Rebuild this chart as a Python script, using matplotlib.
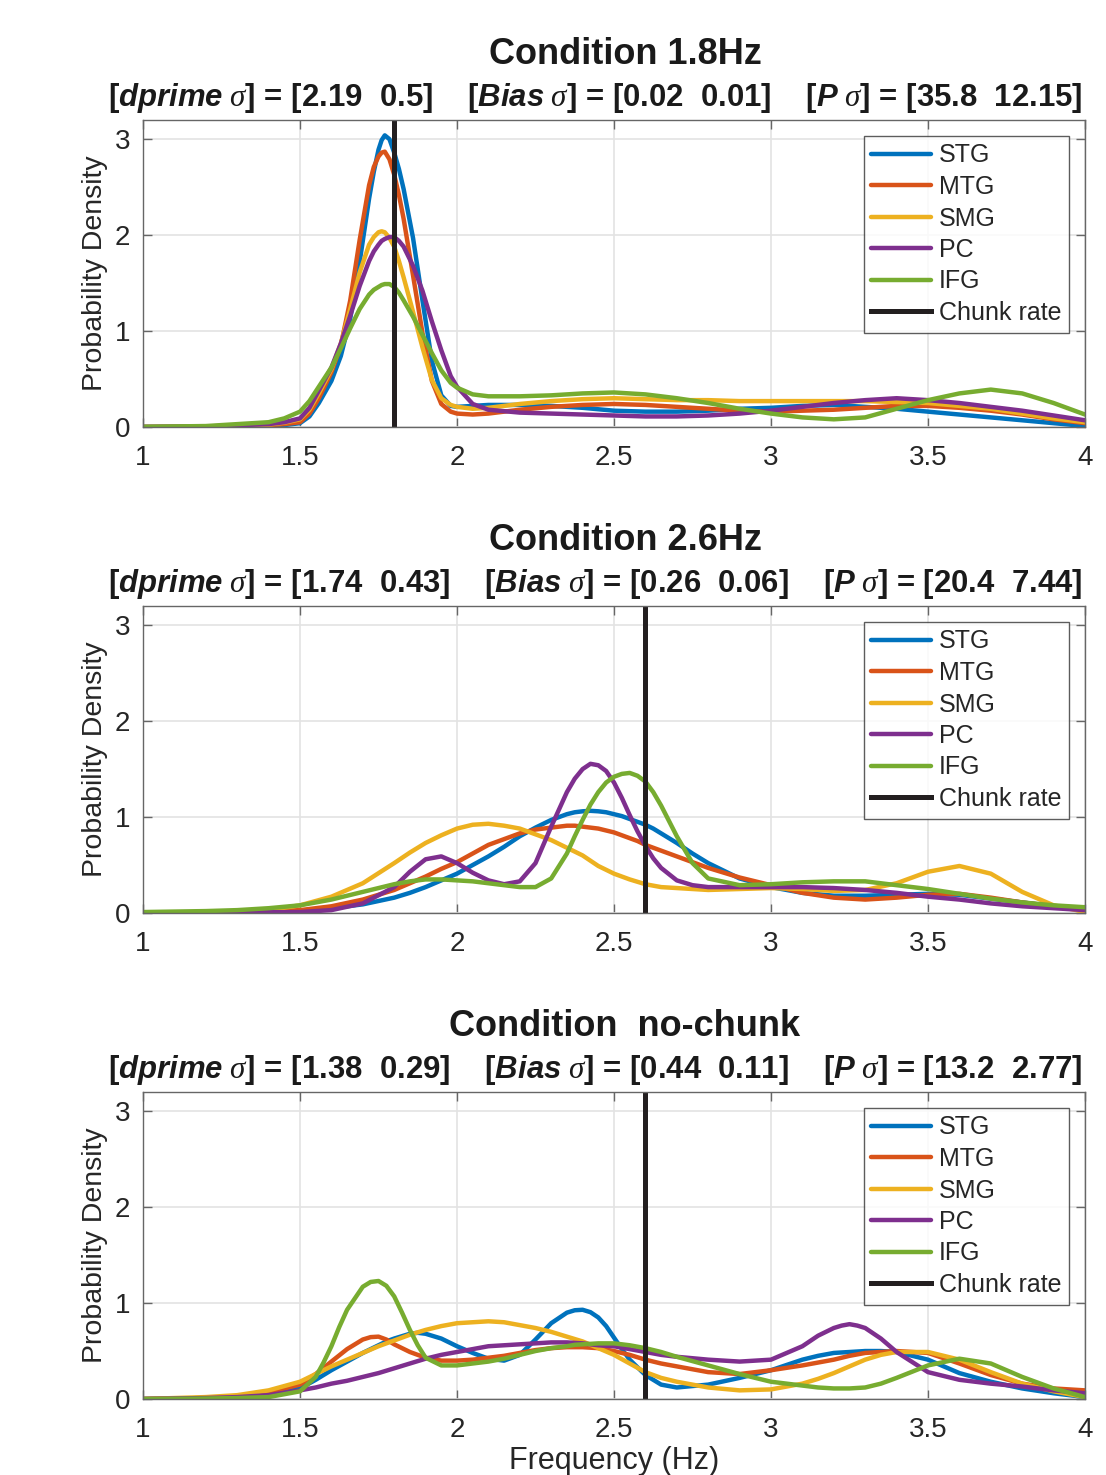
import matplotlib
matplotlib.use("Agg")
import matplotlib.pyplot as plt

plt.rcParams.update(
    {
        "font.family": ["Liberation Sans", "DejaVu Sans"],
        "mathtext.fontset": "custom",
        "mathtext.rm": "Liberation Sans:bold",
        "mathtext.bf": "Liberation Sans:bold",
        "mathtext.it": "Liberation Serif:italic",
        "mathtext.bfit": "Liberation Sans:bold:italic",
    }
)

# MATLAB default line colours
COLORS = ["#0072BD", "#D95319", "#EDB120", "#7E2F8E", "#77AC30"]
REGIONS = ["STG", "MTG", "SMG", "PC", "IFG"]

TITLES = ["Condition 1.8Hz", "Condition 2.6Hz", "Condition  no-chunk"]
DPRIME = [("2.19", "0.5"), ("1.74", "0.43"), ("1.38", "0.29")]
BIAS = [("0.02", "0.01"), ("0.26", "0.06"), ("0.44", "0.11")]
PVAL = [("35.8", "12.15"), ("20.4", "7.44"), ("13.2", "2.77")]
CHUNK_RATE = [1.8, 2.6, 2.6]

TAIL = [2.2, 2.3, 2.4, 2.5, 2.6, 2.7, 2.8, 2.9, 3.0, 3.1, 3.2, 3.3, 3.4, 3.5, 3.6, 3.7, 3.8, 3.9, 4.0]

# ---- panel 1 (1.8 Hz) ----
X1 = [1.0, 1.2, 1.4, 1.45, 1.5, 1.53, 1.56, 1.6, 1.63, 1.66, 1.69, 1.72, 1.735, 1.75,
      1.76, 1.77, 1.785, 1.8, 1.815, 1.83, 1.86, 1.89, 1.92, 1.95, 1.98, 2.0, 2.05, 2.1] + TAIL
STG1 = [0.0, 0.002, 0.01, 0.02, 0.04, 0.11, 0.25, 0.48, 0.74, 1.13, 1.72, 2.38, 2.66, 2.89,
        2.99, 3.04, 3.00, 2.86, 2.69, 2.48, 1.97, 1.32, 0.69, 0.33, 0.22, 0.21, 0.22, 0.23,
        0.23, 0.22, 0.20, 0.17, 0.16, 0.16, 0.17, 0.19, 0.20, 0.22, 0.23, 0.21, 0.19, 0.16,
        0.13, 0.10, 0.07, 0.04, 0.01]
MTG1 = [0.0, 0.003, 0.02, 0.03, 0.05, 0.14, 0.30, 0.57, 0.85, 1.32, 1.95, 2.52, 2.71, 2.82,
        2.86, 2.87, 2.79, 2.63, 2.42, 2.17, 1.58, 0.98, 0.48, 0.24, 0.16, 0.14, 0.13, 0.14,
        0.18, 0.21, 0.23, 0.24, 0.23, 0.21, 0.19, 0.17, 0.16, 0.17, 0.18, 0.20, 0.22, 0.22,
        0.20, 0.17, 0.13, 0.08, 0.04]
SMG1 = [0.0, 0.004, 0.025, 0.045, 0.08, 0.18, 0.35, 0.60, 0.87, 1.23, 1.61, 1.90, 1.98, 2.03,
        2.04, 2.03, 1.97, 1.88, 1.73, 1.56, 1.20, 0.83, 0.49, 0.30, 0.23, 0.21, 0.19, 0.20,
        0.24, 0.27, 0.29, 0.30, 0.29, 0.28, 0.28, 0.27, 0.27, 0.27, 0.27, 0.27, 0.26, 0.25,
        0.22, 0.19, 0.14, 0.09, 0.05]
PC1 = [0.0, 0.005, 0.03, 0.05, 0.09, 0.20, 0.38, 0.62, 0.87, 1.16, 1.47, 1.73, 1.83, 1.90,
       1.94, 1.96, 1.98, 1.98, 1.94, 1.88, 1.68, 1.42, 1.10, 0.80, 0.53, 0.42, 0.24, 0.18,
       0.15, 0.14, 0.13, 0.12, 0.11, 0.11, 0.12, 0.14, 0.17, 0.21, 0.25, 0.28, 0.30, 0.28,
       0.25, 0.21, 0.17, 0.12, 0.07]
IFG1 = [0.002, 0.01, 0.05, 0.09, 0.16, 0.27, 0.42, 0.62, 0.82, 1.03, 1.23, 1.38, 1.43, 1.46,
        1.48, 1.49, 1.49, 1.46, 1.40, 1.32, 1.15, 0.96, 0.77, 0.59, 0.46, 0.41, 0.34, 0.32,
        0.32, 0.33, 0.35, 0.36, 0.34, 0.30, 0.25, 0.19, 0.14, 0.10, 0.08, 0.10, 0.19, 0.28,
        0.35, 0.39, 0.35, 0.25, 0.13]

# ---- panel 2 (2.6 Hz) ----
X2 = [1.0, 1.2, 1.3, 1.4, 1.5, 1.6, 1.7,
      1.8, 1.85, 1.9, 1.95, 2.0, 2.05, 2.1, 2.15, 2.2, 2.25, 2.3, 2.35,
      2.375, 2.4, 2.425, 2.45, 2.475, 2.5, 2.525, 2.55, 2.575, 2.6, 2.625,
      2.65, 2.7, 2.75, 2.8,
      2.9, 3.0, 3.1, 3.2, 3.3, 3.4, 3.5, 3.6, 3.7, 3.8, 3.9, 4.0]
STG2 = [0.0, 0.003, 0.006, 0.01, 0.02, 0.05, 0.09,
        0.16, 0.21, 0.27, 0.34, 0.41, 0.50, 0.59, 0.69, 0.80, 0.89, 0.97, 1.03,
        1.05, 1.06, 1.065, 1.06, 1.05, 1.03, 1.01, 0.98, 0.95, 0.92, 0.88,
        0.83, 0.73, 0.62, 0.52,
        0.36, 0.27, 0.21, 0.18, 0.18, 0.19, 0.20, 0.19, 0.15, 0.11, 0.07, 0.05]
MTG2 = [0.0, 0.005, 0.01, 0.02, 0.03, 0.07, 0.14,
        0.24, 0.31, 0.38, 0.46, 0.53, 0.62, 0.71, 0.77, 0.83, 0.87, 0.89, 0.91,
        0.91, 0.90, 0.89, 0.88, 0.86, 0.84, 0.81, 0.78, 0.75, 0.71, 0.68,
        0.65, 0.59, 0.53, 0.47,
        0.37, 0.29, 0.21, 0.16, 0.14, 0.16, 0.19, 0.20, 0.16, 0.11, 0.07, 0.05]
SMG2 = [0.0, 0.01, 0.02, 0.03, 0.08, 0.17, 0.31,
        0.52, 0.63, 0.73, 0.81, 0.88, 0.92, 0.93, 0.91, 0.88, 0.82, 0.76, 0.68,
        0.64, 0.60, 0.545, 0.49, 0.45, 0.41, 0.38, 0.35, 0.325, 0.30, 0.285,
        0.27, 0.26, 0.25, 0.24,
        0.25, 0.26, 0.25, 0.23, 0.24, 0.31, 0.43, 0.49, 0.41, 0.22, 0.08, 0.01]
PC2 = [0.0, 0.002, 0.004, 0.008, 0.01, 0.03, 0.10,
       0.27, 0.43, 0.56, 0.59, 0.52, 0.42, 0.34, 0.30, 0.33, 0.52, 0.90, 1.26,
       1.40, 1.50, 1.555, 1.54, 1.48, 1.36, 1.20, 1.02, 0.85, 0.70, 0.57,
       0.47, 0.34, 0.29, 0.27,
       0.27, 0.27, 0.27, 0.26, 0.24, 0.21, 0.17, 0.14, 0.10, 0.07, 0.05, 0.03]
IFG2 = [0.01, 0.02, 0.03, 0.05, 0.08, 0.14, 0.22,
        0.30, 0.33, 0.35, 0.35, 0.34, 0.33, 0.31, 0.29, 0.27, 0.27, 0.36, 0.62,
        0.80, 0.97, 1.13, 1.26, 1.36, 1.42, 1.45, 1.46, 1.43, 1.37, 1.26,
        1.12, 0.80, 0.52, 0.36,
        0.29, 0.30, 0.32, 0.33, 0.33, 0.29, 0.25, 0.20, 0.15, 0.11, 0.08, 0.06]

# ---- panel 3 (no chunk) ----
X3 = [1.0, 1.2, 1.3, 1.4, 1.5,
      1.55, 1.575, 1.6, 1.625, 1.65,
      1.7, 1.725, 1.75, 1.775, 1.8, 1.825, 1.85, 1.875, 1.9,
      1.95, 2.0, 2.05, 2.1, 2.15, 2.2, 2.25, 2.3, 2.35,
      2.375, 2.4, 2.425, 2.45, 2.475, 2.5, 2.525, 2.55,
      2.6, 2.65, 2.7, 2.8, 2.9, 3.0, 3.1,
      3.15, 3.2, 3.225, 3.25, 3.275, 3.3, 3.35,
      3.4, 3.5, 3.6, 3.7, 3.8, 3.9, 4.0]
STG3 = [0.0, 0.01, 0.03, 0.06, 0.11,
        0.20, 0.25, 0.30, 0.345, 0.39,
        0.48, 0.52, 0.56, 0.60, 0.63, 0.655, 0.68, 0.69, 0.68,
        0.63, 0.55, 0.48, 0.42, 0.40, 0.46, 0.62, 0.79, 0.90,
        0.925, 0.93, 0.905, 0.85, 0.76, 0.64, 0.52, 0.41,
        0.25, 0.15, 0.12, 0.15, 0.22, 0.30, 0.41,
        0.45, 0.48, 0.485, 0.49, 0.495, 0.50, 0.50,
        0.49, 0.41, 0.27, 0.18, 0.11, 0.06, 0.02]
MTG3 = [0.0, 0.01, 0.03, 0.07, 0.15,
        0.26, 0.325, 0.39, 0.455, 0.52,
        0.62, 0.645, 0.65, 0.62, 0.57, 0.53, 0.49, 0.46, 0.43,
        0.40, 0.40, 0.41, 0.43, 0.45, 0.48, 0.51, 0.53, 0.54,
        0.54, 0.54, 0.535, 0.53, 0.515, 0.50, 0.48, 0.46,
        0.41, 0.37, 0.34, 0.28, 0.26, 0.30, 0.35,
        0.38, 0.41, 0.43, 0.45, 0.465, 0.48, 0.49,
        0.50, 0.48, 0.37, 0.25, 0.16, 0.11, 0.09]
SMG3 = [0.0, 0.02, 0.04, 0.09, 0.18,
        0.26, 0.30, 0.34, 0.375, 0.41,
        0.48, 0.515, 0.55, 0.58, 0.61, 0.64, 0.67, 0.695, 0.72,
        0.76, 0.79, 0.80, 0.81, 0.80, 0.77, 0.74, 0.70, 0.65,
        0.625, 0.60, 0.565, 0.53, 0.495, 0.46, 0.415, 0.37,
        0.28, 0.22, 0.18, 0.12, 0.09, 0.10, 0.16,
        0.21, 0.27, 0.305, 0.34, 0.375, 0.41, 0.46,
        0.49, 0.49, 0.41, 0.28, 0.16, 0.08, 0.02]
PC3 = [0.0, 0.01, 0.02, 0.04, 0.09,
       0.12, 0.14, 0.16, 0.175, 0.19,
       0.23, 0.25, 0.27, 0.295, 0.32, 0.345, 0.37, 0.395, 0.42,
       0.46, 0.49, 0.52, 0.55, 0.56, 0.57, 0.58, 0.59, 0.59,
       0.585, 0.58, 0.57, 0.56, 0.555, 0.55, 0.535, 0.52,
       0.49, 0.46, 0.44, 0.41, 0.39, 0.41, 0.55,
       0.66, 0.74, 0.765, 0.78, 0.765, 0.74, 0.63,
       0.49, 0.28, 0.20, 0.16, 0.13, 0.09, 0.06]
IFG3 = [0.0, 0.005, 0.01, 0.02, 0.08,
        0.23, 0.38, 0.55, 0.75, 0.93,
        1.17, 1.22, 1.23, 1.18, 1.07, 0.90, 0.72, 0.56, 0.43,
        0.35, 0.35, 0.37, 0.39, 0.42, 0.46, 0.50, 0.53, 0.55,
        0.565, 0.57, 0.575, 0.58, 0.58, 0.58, 0.57, 0.56,
        0.53, 0.49, 0.44, 0.35, 0.26, 0.18, 0.14,
        0.12, 0.11, 0.11, 0.11, 0.115, 0.12, 0.16,
        0.22, 0.35, 0.42, 0.37, 0.23, 0.11, 0.02]

PANELS = [
    (X1, [STG1, MTG1, SMG1, PC1, IFG1]),
    (X2, [STG2, MTG2, SMG2, PC2, IFG2]),
    (X3, [STG3, MTG3, SMG3, PC3, IFG3]),
]

W, H = 1106, 1475
AX_LEFT, AX_RIGHT = 143, 1085
AX_BOTTOMS = [427, 913, 1399]
AX_HEIGHT = 307


def style_axis(ax):
    for s in ax.spines.values():
        s.set_color("#666666")
        s.set_linewidth(1.0)
    ax.tick_params(direction="in", length=6.5, width=1.0, colors="#666666",
                   top=True, right=True, labelsize=20, labelcolor="#262626")
    ax.tick_params(axis="x", pad=13)
    ax.tick_params(axis="y", pad=9)
    ax.grid(True, color="#e3e3e3", linewidth=1.2)
    ax.set_axisbelow(True)


fig = plt.figure(figsize=(W / 100, H / 100), dpi=100)

for i, (xs, curves) in enumerate(PANELS):
    bottom = AX_BOTTOMS[i]
    ax = fig.add_axes([AX_LEFT / W, (H - bottom) / H, (AX_RIGHT - AX_LEFT) / W, AX_HEIGHT / H])
    for ys, c, lab in zip(curves, COLORS, REGIONS):
        ax.plot(xs, ys, color=c, linewidth=3.2, label=lab,
                solid_capstyle="round", solid_joinstyle="round")
    ax.axvline(CHUNK_RATE[i], color="#231f20", linewidth=3.6, label="Chunk rate")
    ax.set_xlim(1, 4)
    ax.set_ylim(0, 3.2)
    ax.set_xticks([1, 1.5, 2, 2.5, 3, 3.5, 4])
    ax.set_xticklabels(["1", "1.5", "2", "2.5", "3", "3.5", "4"])
    ax.set_yticks([0, 1, 2, 3])
    style_axis(ax)
    ax.set_ylabel("Probability Density", fontsize=20.5, color="#262626", labelpad=5)
    leg = ax.legend(loc="upper right", fontsize=18, frameon=True, fancybox=False,
                    handlelength=2.4, handletextpad=0.32, labelspacing=0.30,
                    borderpad=0.3, borderaxespad=0.64)
    leg.get_frame().set_edgecolor("#333333")
    leg.get_frame().set_linewidth(1.0)
    for t in leg.get_texts():
        t.set_color("#262626")

    top = bottom - AX_HEIGHT
    fig.text(625 / W, 1 - (top - 66) / H, TITLES[i], ha="center", va="center",
             fontsize=26, fontweight="bold", color="#1a1a1a")
    d, b, p = DPRIME[i], BIAS[i], PVAL[i]
    line2 = (r"[$\mathbfit{dprime}\ \sigma$] = [%s  %s]    " % d
             + r"[$\mathbfit{Bias}\ \sigma$] = [%s  %s]    " % b
             + r"[$\mathbfit{P}\ \sigma$] = [%s  %s]" % p)
    fig.text(108 / W, 1 - (top - 22) / H, line2, ha="left", va="center",
             fontsize=22.4, fontweight="bold", color="#1a1a1a")
    if i == 2:
        ax.set_xlabel("Frequency (Hz)", fontsize=22, color="#262626", labelpad=2)

fig.savefig("out.png", dpi=100)
